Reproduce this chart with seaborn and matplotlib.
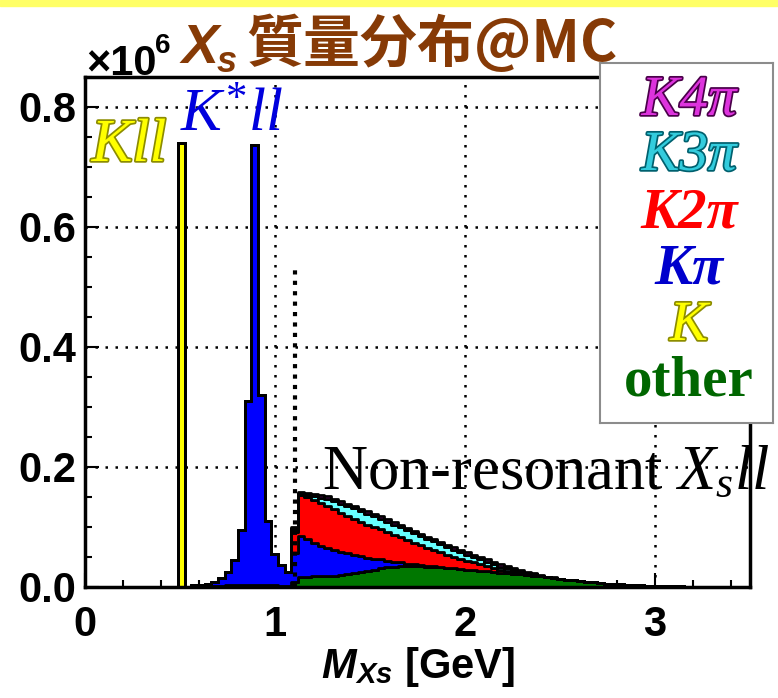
import matplotlib
matplotlib.use("Agg")
import matplotlib.pyplot as plt
import matplotlib.patheffects as pe
from matplotlib.patches import Rectangle
from matplotlib.ticker import MultipleLocator, FormatStrFormatter
import numpy as np
import pandas as pd
import seaborn as sns

W, H = 778, 698

# bin contents in units of 10^6, 100 bins of 0.035 GeV between 0 and 3.5 GeV
n_bins = 100
x_max = 3.5

k_mode = [0.0] * 14 + [0.74] + [0.0] * 85

other = [0.0] * 16 + [
    0.001, 0.001, 0.002, 0.002, 0.002, 0.003, 0.003, 0.003, 0.004, 0.004,
    0.004, 0.003, 0.003, 0.002, 0.002,
] + [
    0.009, 0.016, 0.017, 0.018, 0.018, 0.019, 0.019, 0.020, 0.021, 0.023,
    0.025, 0.027, 0.029, 0.031, 0.033, 0.034, 0.035, 0.035, 0.035, 0.035,
    0.034, 0.034, 0.033, 0.032, 0.031, 0.030, 0.029, 0.028, 0.027, 0.026,
    0.025, 0.024, 0.023, 0.022, 0.021, 0.020, 0.019, 0.018, 0.016, 0.015,
    0.013, 0.012, 0.011, 0.0095, 0.0085, 0.0075, 0.0065, 0.0055, 0.005, 0.0043,
    0.0037, 0.0032, 0.0028, 0.0024, 0.002, 0.0017, 0.0014, 0.0012, 0.001, 0.0008,
    0.0007, 0.0006, 0.0005, 0.0004, 0.0003, 0.0002, 0.0002, 0.0001, 0.0001,
]

kpi = [0.0] * 16 + [
    0.002, 0.002, 0.003, 0.006, 0.013, 0.022, 0.042, 0.092, 0.306, 0.733,
    0.316, 0.107, 0.052, 0.034, 0.023,
] + [
    0.047, 0.069, 0.063, 0.055, 0.051, 0.046, 0.043, 0.039, 0.035, 0.031,
    0.026, 0.022, 0.018, 0.015, 0.011, 0.008, 0.006, 0.004, 0.003, 0.002,
    0.0015, 0.001, 0.001, 0.0005,
] + [0.0] * 45

k2pi = [0.0] * 31 + [
    0.036, 0.068, 0.070, 0.072, 0.071, 0.070, 0.068, 0.065, 0.062, 0.060,
    0.058, 0.055, 0.053, 0.050, 0.047, 0.045, 0.042, 0.039, 0.036, 0.033,
    0.0295, 0.027, 0.024, 0.021, 0.019, 0.017, 0.015, 0.013, 0.011, 0.009,
    0.007, 0.005, 0.004, 0.003, 0.002, 0.001, 0.001,
] + [0.0] * 32

k3pi = [0.0] * 31 + [
    0.004, 0.002, 0.003, 0.006, 0.009, 0.012, 0.013, 0.015, 0.017, 0.017,
    0.017, 0.018, 0.018, 0.018, 0.018, 0.017, 0.017, 0.017, 0.016, 0.015,
    0.015, 0.014, 0.013, 0.0125, 0.012, 0.011, 0.010, 0.009, 0.008, 0.007,
    0.006, 0.005, 0.004, 0.003, 0.002, 0.001, 0.001,
] + [0.0] * 32

k4pi = [0.0] * 31 + [0.004] * 33 + [0.003, 0.003, 0.003, 0.002, 0.002, 0.001, 0.001] + [0.0] * 29

modes = ["K4π", "K3π", "K2π", "Kπ", "K", "other"]
mode_values = [k4pi, k3pi, k2pi, kpi, k_mode, other]
fill_colors = {"K4π": "#FF00FF", "K3π": "#66FFFF", "K2π": "#FF0000",
               "Kπ": "#0000FF", "K": "#FFFF00", "other": "#007700"}

edges = np.linspace(0, x_max, n_bins + 1)
centers = (edges[:-1] + edges[1:]) / 2
df = pd.concat([pd.DataFrame({"mass": centers, "events": vals, "mode": name})
                for name, vals in zip(modes, mode_values)], ignore_index=True)

plt.rcParams["mathtext.fontset"] = "custom"
plt.rcParams["mathtext.rm"] = "Liberation Serif"
plt.rcParams["mathtext.it"] = "Liberation Serif:italic"
plt.rcParams["mathtext.bf"] = "Liberation Sans:bold"
plt.rcParams["mathtext.bfit"] = "Liberation Sans:italic:bold"


def px(x, y):
    return x / W, 1 - y / H


fig = plt.figure(figsize=(W / 100, H / 100), dpi=100)
fig.patches.append(Rectangle(px(0, 6), 1, 6 / H, transform=fig.transFigure,
                             color="#FFFF66", zorder=0))

ax = fig.add_axes([85 / W, 1 - 587 / H, 665 / W, 510 / H])
sns.histplot(data=df, x="mass", weights="events", hue="mode", hue_order=modes,
             palette=fill_colors, bins=n_bins, binrange=(0, x_max), multiple="stack",
             element="step", alpha=1, edgecolor="black", linewidth=2, legend=False, ax=ax)

ax.vlines(1.105, 0, 0.53, color="black", linestyle=(0, (1, 1.5)), linewidth=3, zorder=4)

ax.set_xlim(0, x_max)
ax.set_ylim(0, 0.85)
ax.set_xticks([0, 1, 2, 3])
ax.set_yticks([0.0, 0.2, 0.4, 0.6, 0.8])
ax.xaxis.set_minor_locator(MultipleLocator(0.2))
ax.yaxis.set_minor_locator(MultipleLocator(0.05))
ax.xaxis.set_major_formatter(FormatStrFormatter("%d"))
ax.yaxis.set_major_formatter(FormatStrFormatter("%.1f"))
ax.set_axisbelow(True)
ax.grid(True, which="major", color="black", linestyle=(0, (1, 3)), linewidth=1.8)
ax.tick_params(which="major", direction="in", length=10, width=1.5, labelsize=30)
ax.tick_params(which="minor", direction="in", length=5, width=1.5)
ax.tick_params(axis="x", pad=13)
ax.tick_params(axis="y", pad=6)
for lab in ax.get_xticklabels() + ax.get_yticklabels():
    lab.set_fontfamily("Liberation Sans")
    lab.set_fontweight("bold")
for sp in ax.spines.values():
    sp.set_linewidth(2.5)
    sp.set_color("black")
ax.set_ylabel("")
ax.set_xlabel(r"$\mathbfit{M}_{\mathbfit{Xs}}$ [GeV]", fontsize=30, fontweight="bold",
              fontfamily="Liberation Sans", labelpad=0)

# title and exponent
brown = "#863A06"
fig.text(*px(182, 63), "X", fontsize=40, fontweight="bold", fontstyle="italic",
         family="Liberation Sans", color=brown, va="baseline")
fig.text(*px(217, 72), "s", fontsize=26, fontweight="bold", fontstyle="italic",
         family="Liberation Sans", color=brown, va="baseline")
fig.text(*px(246, 62), "質量分布@MC", fontsize=41, fontweight="bold",
         family=["Noto Sans CJK JP", "DejaVu Sans"], color=brown, va="baseline")
fig.text(*px(86, 75), "×10", fontsize=30, fontweight="bold", family="Liberation Sans",
         va="baseline")
fig.text(*px(155, 53), "6", fontsize=20, fontweight="bold", family="Liberation Sans",
         va="baseline")

# annotations
ax.text(0.035, 0.71, "Kll", transform=ax.transData, fontsize=44, fontstyle="italic",
        family="Liberation Serif", color="#FFFF00", va="baseline",
        path_effects=[pe.withStroke(linewidth=2.5, foreground="#8C8C00")])
ax.text(0.5, 0.76, r"$K^{*}ll$", fontsize=44, color="#0000DD", va="baseline")
ax.text(1.25, 0.163, r"Non-resonant $X_s ll$", fontsize=45, family="Liberation Serif",
        color="black", va="baseline", clip_on=False)

# legend box
lax = fig.add_axes([600 / W, 1 - 423 / H, 173 / W, 360 / H])
lax.set_xticks([])
lax.set_yticks([])
for sp in lax.spines.values():
    sp.set_color("#8C8C8C")
    sp.set_linewidth(1.5)

legend_rows = [
    ("K4π", 115, "#DD33DD", "#4A004A", "italic", "normal"),
    ("K3π", 170, "#33CCDD", "#00606E", "italic", "normal"),
    ("K2π", 227, "#FF0000", None, "italic", "bold"),
    ("Kπ", 283, "#0000CC", None, "italic", "bold"),
    ("K", 340, "#FFFF00", "#8C8C00", "italic", "normal"),
    ("other", 395, "#006600", None, "normal", "bold"),
]
for label, base_y, col, stroke, style, weight in legend_rows:
    effects = [pe.withStroke(linewidth=2.5, foreground=stroke)] if stroke else None
    fig.text(*px(689, base_y), label, fontsize=41, family="Liberation Serif",
             fontstyle=style, fontweight=weight, color=col, ha="center", va="baseline",
             path_effects=effects, zorder=5)

fig.savefig("out.png", dpi=100, facecolor="white")
